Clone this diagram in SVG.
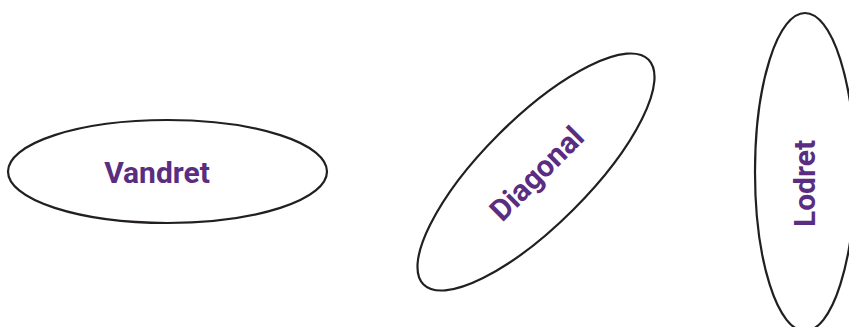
<svg xmlns="http://www.w3.org/2000/svg" width="849" height="327" viewBox="0 0 849 327">
<style>
.shape{fill:#ffffff;stroke:#231f20;stroke-width:2.2}
.lbl{font-family:Roboto,"Liberation Sans",sans-serif;font-weight:700;font-size:30px;fill:#5a2d81;text-anchor:middle}
</style>
<rect width="849" height="327" fill="#ffffff"/>
<g id="vandret">
<ellipse class="shape" cx="167.5" cy="171.5" rx="159.5" ry="51.5"/>
<text class="lbl" x="157" y="183">Vandret</text>
</g>
<g id="diagonal">
<ellipse class="shape" cx="536" cy="172" rx="159" ry="53" transform="rotate(-45 536 172)"/>
<text class="lbl" transform="translate(544 181) rotate(-45)">Diagonal</text>
</g>
<g id="lodret">
<ellipse class="shape" cx="805" cy="172" rx="50" ry="159"/>
<text class="lbl" transform="translate(815 183.5) rotate(-90)">Lodret</text>
</g>
<g id="connectors"/>
</svg>
